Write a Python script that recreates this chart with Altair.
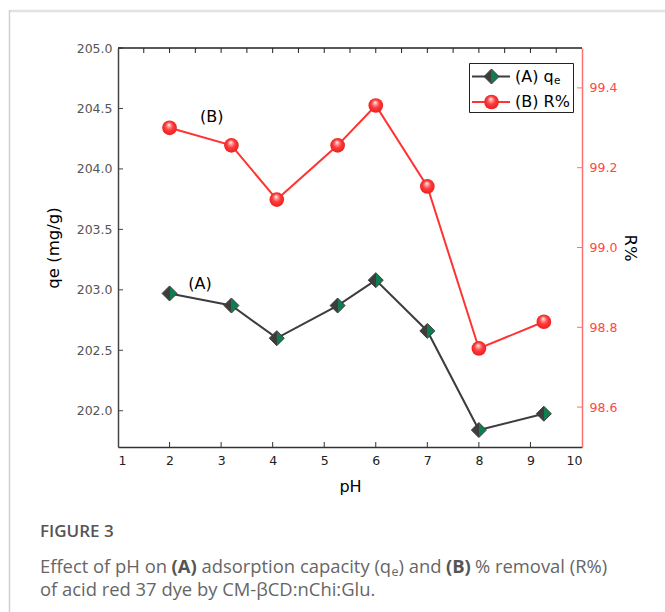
import altair as alt
import pandas as pd

# ---- data ----
ph = [2, 3.2, 4.08, 5.26, 6, 7, 8, 9.26]
qe = [202.97, 202.87, 202.60, 202.87, 203.08, 202.66, 201.84, 201.975]
removal = [99.30, 99.256, 99.12, 99.256, 99.356, 99.153, 98.747, 98.814]

x_ticks = [1, 2, 3, 4, 5, 6, 7, 8, 9, 10]
x_inner_ticks = [2, 3, 4, 5, 6, 7, 8, 9]
top_ticks = [1.5, 2, 2.5, 3, 3.5, 4, 4.5, 5, 5.5, 6, 6.5, 7, 7.5, 8, 8.5, 9, 9.5]
left_ticks = [202.0, 202.5, 203.0, 203.5, 204.0, 204.5, 205.0]
right_ticks = [98.6, 98.8, 99.0, 99.2, 99.4]

W, H = 464, 399
FONT = "DejaVu Sans"
CAP_FONT = "Open Sans"
GRAY = "#3d3d3d"
GREEN = "#0f7d4f"
RED = "#ff3333"

dfA = pd.DataFrame({"pH": ph, "qe": qe})
dfB = pd.DataFrame({"pH": ph, "R": removal})
one = pd.DataFrame({"k": [0]})

xscale = alt.Scale(domain=[1, 10], nice=False, zero=False)
xaxis = alt.Axis(title="pH", values=x_ticks, format="d", ticks=False, grid=False,
                 domainColor="#333", domainWidth=1.5, labelColor="#222", labelFont=FONT,
                 labelFontSize=12.5, labelPadding=7, titleFont=FONT, titleFontSize=16,
                 titleFontWeight="normal", titleColor="#000", titlePadding=12)


def X(field="pH"):
    return alt.X(f"{field}:Q", scale=xscale, axis=xaxis)


yscaleA = alt.Scale(domain=[201.7, 205.0], nice=False, zero=False)
yaxisA = alt.Axis(title="qe (mg/g)", orient="left", values=left_ticks, format=".1f", ticks=False,
                  grid=False, domainColor="#444", domainWidth=1.5, labelColor="#555",
                  labelFont=FONT, labelFontSize=12.5, labelPadding=6, titleFont=FONT,
                  titleFontSize=16.5, titleFontWeight="normal", titleColor="#000",
                  titlePadding=15)

yscaleB = alt.Scale(domain=[98.5, 99.5], nice=False, zero=False)
yaxisB = alt.Axis(title="R%", orient="right", values=right_ticks, format=".1f", ticks=False,
                  grid=False, domainColor="#ff7070", domainWidth=1.5, labelColor="#ff4747",
                  labelFont=FONT, labelFontSize=12.5, labelPadding=7, titleFont=FONT,
                  titleFontSize=16.5, titleFontWeight="normal", titleColor="#000",
                  titlePadding=5)


def YA(field="qe"):
    return alt.Y(f"{field}:Q", scale=yscaleA, axis=yaxisA)


def YB(field="R"):
    return alt.Y(f"{field}:Q", scale=yscaleB, axis=yaxisB)


diamond_fill = alt.LinearGradient(
    gradient="linear", x1=0, y1=0, x2=1, y2=0,
    stops=[alt.GradientStop(offset=0, color=GRAY), alt.GradientStop(offset=0.5, color=GRAY),
           alt.GradientStop(offset=0.5, color=GREEN), alt.GradientStop(offset=1, color=GREEN)])
sphere_fill = alt.RadialGradient(
    gradient="radial", x1=0.45, y1=0.28, r1=0, x2=0.5, y2=0.5, r2=0.55,
    stops=[alt.GradientStop(offset=0, color="#ffffff"), alt.GradientStop(offset=0.22, color="#ff9a9a"),
           alt.GradientStop(offset=0.5, color="#ff3b3b"), alt.GradientStop(offset=1, color="#e81c1c")])

# ---- series A ----
lineA = alt.Chart(dfA).mark_line(color=GRAY, strokeWidth=2).encode(x=X(), y=YA())
ptsA = alt.Chart(dfA).mark_point(shape="diamond", size=225, filled=True, fill=diamond_fill,
                                 stroke=GRAY, strokeWidth=1, opacity=1).encode(x=X(), y=YA())
ticksA = alt.Chart(pd.DataFrame({"qe": left_ticks})).mark_rule(color="#444", strokeWidth=1).encode(
    y=YA(), x=alt.value(0), x2=alt.value(5))
labA = alt.Chart(pd.DataFrame({"pH": [2.59], "qe": [203.05], "t": ["(A)"]})).mark_text(
    font=FONT, fontSize=16, color="#000").encode(x=X(), y=YA(), text="t:N")
layerA = alt.layer(lineA, ptsA, ticksA, labA)

# ---- series B ----
lineB = alt.Chart(dfB).mark_line(color=RED, strokeWidth=2).encode(x=X(), y=YB())
ptsB = alt.Chart(dfB).mark_point(shape="circle", size=215, filled=True, fill=sphere_fill,
                                 strokeWidth=0, opacity=1).encode(x=X(), y=YB())
ticksB = alt.Chart(pd.DataFrame({"R": right_ticks})).mark_rule(color="#ff7070", strokeWidth=1).encode(
    y=YB(), x=alt.value(W - 5), x2=alt.value(W))
labB = alt.Chart(pd.DataFrame({"pH": [2.82], "R": [99.328], "t": ["(B)"]})).mark_text(
    font=FONT, fontSize=16, color="#000").encode(x=X(), y=YB(), text="t:N")
layerB = alt.layer(lineB, ptsB, ticksB, labB)

# ---- frame ticks (top and bottom, inward) ----
topT = alt.Chart(pd.DataFrame({"pH": top_ticks})).mark_rule(color="#222", strokeWidth=1).encode(
    x=X(), y=alt.value(0), y2=alt.value(5))
botT = alt.Chart(pd.DataFrame({"pH": x_inner_ticks})).mark_rule(color="#333", strokeWidth=1).encode(
    x=X(), y=alt.value(H - 5), y2=alt.value(H))
topLine = alt.Chart(one).mark_rule(color="#222", strokeWidth=1.5).encode(
    x=alt.value(0), x2=alt.value(W), y=alt.value(0))

# ---- legend ----
legBox = alt.Chart(one).mark_rect(fill="white", stroke="#222", strokeWidth=1).encode(
    x=alt.value(351.5), x2=alt.value(455.5), y=alt.value(15.5), y2=alt.value(64.5))
legLineA = alt.Chart(one).mark_rule(color=GRAY, strokeWidth=2).encode(
    x=alt.value(354), x2=alt.value(392), y=alt.value(28.5))
legLineB = alt.Chart(one).mark_rule(color=RED, strokeWidth=2).encode(
    x=alt.value(354), x2=alt.value(392), y=alt.value(54))
legPtA = alt.Chart(one).mark_point(shape="diamond", size=225, filled=True, fill=diamond_fill,
                                   stroke=GRAY, strokeWidth=1, opacity=1).encode(
    x=alt.value(373.5), y=alt.value(28.5))
legPtB = alt.Chart(one).mark_point(shape="circle", size=215, filled=True, fill=sphere_fill,
                                   strokeWidth=0, opacity=1).encode(
    x=alt.value(373.5), y=alt.value(54))
legTxtA = alt.Chart(one).mark_text(font=FONT, fontSize=16, color="#000", align="left",
                                   baseline="middle", text="(A) q").encode(
    x=alt.value(397), y=alt.value(28.5))
legSubA = alt.Chart(one).mark_text(font=FONT, fontSize=10.5, color="#000", align="left",
                                   baseline="middle", text="e").encode(
    x=alt.value(436), y=alt.value(33))
legTxtB = alt.Chart(one).mark_text(font=FONT, fontSize=16, color="#000", align="left",
                                   baseline="middle", text="(B) R%").encode(
    x=alt.value(397), y=alt.value(54))

# ---- page frame and caption ----
frameTop = alt.Chart(one).mark_rule(color="#e2e2e2", strokeWidth=2.5).encode(
    x=alt.value(-109), x2=alt.value(W + 83), y=alt.value(-37))
frameLeft = alt.Chart(one).mark_rule(color="#d0d0d0", strokeWidth=1.5).encode(
    x=alt.value(-108.5), y=alt.value(-38), y2=alt.value(H + 165))

CAPC = "#666666"
BOLDC = "#555555"
OX, OY = 118, 48
CS = 18.4


def cap(text, x, y, size=CS, weight="normal", color=CAPC):
    return alt.Chart(one).mark_text(font=CAP_FONT, fontSize=size, fontWeight=weight, color=color,
                                    align="left", baseline="middle", text=text).encode(
        x=alt.value(x - OX), y=alt.value(y - OY))


caption = [
    cap("FIGURE 3", 40, 532, size=17, weight=600, color=BOLDC),
    cap("Effect of pH on", 40, 567),
    cap("(A)", 171.5, 567, weight="bold", color=BOLDC),
    cap("adsorption capacity (q", 201.5, 567),
    cap("e", 391.5, 572, size=12.5),
    cap(") and", 398.5, 567),
    cap("(B)", 446, 567, weight="bold", color=BOLDC),
    cap("% removal (R%)", 475, 567),
    cap("of acid red 37 dye by CM-βCD:nChi:Glu.", 40, 590),
]

chart = alt.layer(
    layerA, layerB, topT, botT, topLine,
    legBox, legLineA, legLineB, legPtA, legPtB, legTxtA, legSubA, legTxtB,
    frameTop, frameLeft, *caption
).resolve_scale(y="independent").properties(
    width=W, height=H, autosize="none",
    padding={"left": OX, "top": OY, "right": 665 - OX - W, "bottom": 612 - OY - H},
    background="white"
).configure_view(stroke=None)

chart.save("out.html", embed_options={"renderer": "svg", "actions": False})
